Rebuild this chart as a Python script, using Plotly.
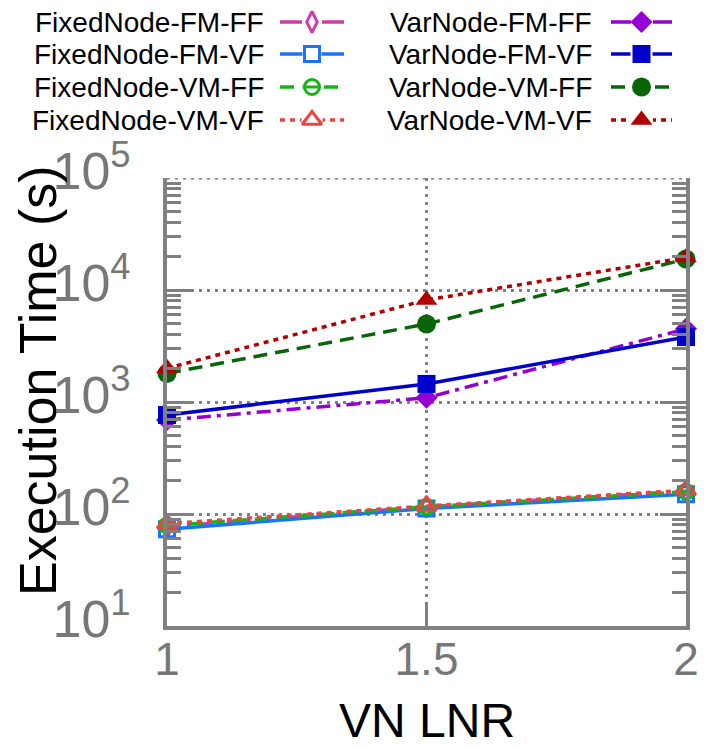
import plotly.graph_objects as go

# ---- data ---------------------------------------------------------------
lnr = [1, 1.5, 2]
x_tick_vals = [1, 1.5, 2]
x_tick_text = ["1", "1.5", "2"]
y_tick_vals = [10, 100, 1000, 10000, 100000]
y_tick_text = ["10<sup>1</sup>", "10<sup>2</sup>", "10<sup>3</sup>", "10<sup>4</sup>", "10<sup>5</sup>"]

fixed_fm_ff = [77, 116, 160]
fixed_fm_vf = [73, 112, 150]
fixed_vm_ff = [79, 116, 158]
fixed_vm_vf = [82, 118, 163]
var_fm_ff = [690, 1090, 4500]
var_fm_vf = [765, 1450, 3800]
var_vm_ff = [1800, 4970, 18900]
var_vm_vf = [2000, 8150, 19500]

names = [
    "FixedNode-FM-FF", "FixedNode-FM-VF", "FixedNode-VM-FF", "FixedNode-VM-VF",
    "VarNode-FM-FF", "VarNode-FM-VF", "VarNode-VM-FF", "VarNode-VM-VF",
]
values = [fixed_fm_ff, fixed_fm_vf, fixed_vm_ff, fixed_vm_vf,
          var_fm_ff, var_fm_vf, var_vm_ff, var_vm_vf]

# ---- styles -------------------------------------------------------------
W, H = 708, 747
PX_L, PX_R, PX_T, PX_B = 167, 686, 178, 626   # plot box in pixels
GRAY = "#808080"
TICK_GRAY = "#777777"
FONT = "Liberation Sans, Arial, Helvetica, sans-serif"

DASH_FMFF = "14px,6px,4px,6px"
DASH_FMVF = "solid"
DASH_VMFF = "14px,8px"
DASH_VMVF = "5px,5px"

styles = [
    dict(color="#d03ca8", dash=DASH_FMFF, key_dash="22px,20px", symbol="diamond-tall-open", size=15),
    dict(color="#1a73ff", dash=DASH_FMVF, key_dash="solid", symbol="square-open", size=15),
    dict(color="#14b414", dash=DASH_VMFF, key_dash=DASH_VMFF, symbol="circle-open", size=15),
    dict(color="#e84545", dash=DASH_VMVF, key_dash=DASH_VMVF, symbol="triangle-up-open", size=17),
    dict(color="#9400d3", dash=DASH_FMFF, key_dash="22px,20px", symbol="diamond", size=17),
    dict(color="#0000cc", dash=DASH_FMVF, key_dash="solid", symbol="square", size=18),
    dict(color="#0a640a", dash=DASH_VMFF, key_dash=DASH_VMFF, symbol="circle", size=19),
    dict(color="#b00000", dash=DASH_VMVF, key_dash=DASH_VMVF, symbol="triangle-up", size=19),
]

fig = go.Figure()


def add_series(xs, ys, st, xaxis="x", yaxis="y", lw=3.5, line_only=False, dash=None):
    filled = not st["symbol"].endswith("open")
    fig.add_trace(go.Scatter(
        x=xs, y=ys, mode="lines" if line_only else "lines+markers",
        xaxis=xaxis, yaxis=yaxis, cliponaxis=False, showlegend=False,
        line=dict(color=st["color"], width=lw, dash=dash or st["dash"]),
        marker=dict(symbol=st["symbol"], size=st["size"], color=st["color"],
                    line=dict(color=st["color"], width=0 if filled else 3)),
        hoverinfo="skip",
    ))


def add_bar_mark(xs, ys, st, xaxis="x", yaxis="y"):
    # horizontal stroke inside the open circle (theta-like point)
    fig.add_trace(go.Scatter(
        x=xs, y=ys, mode="markers", xaxis=xaxis, yaxis=yaxis,
        cliponaxis=False, showlegend=False, hoverinfo="skip",
        marker=dict(symbol="line-ew", size=10,
                    line=dict(color=st["color"], width=3)),
    ))


# dotted grid line along the top edge of the box (10^5)
fig.add_shape(type="line", xref="x domain", yref="y", x0=0, x1=1,
              y0=y_tick_vals[-1], y1=y_tick_vals[-1],
              line=dict(color=GRAY, width=3, dash="3px,5px"), layer="below")

for i, (nm, ys) in enumerate(zip(names, values)):
    add_series(lnr, ys, styles[i])
    if i == 2:
        add_bar_mark(lnr, ys, styles[i])

# ---- legend drawn in the top band (pixel-coordinate axes) ---------------
LEG_H = 150
row_y = [22, 54, 87, 120]
cols = [
    dict(text_right=266, x0=280, x1=344),
    dict(text_right=594, x0=611, x1=672),
]
for i, nm in enumerate(names):
    col = cols[i // 4]
    y = row_y[i % 4]
    st = styles[i]
    add_series([col["x0"], col["x1"]], [y, y], st, xaxis="x2", yaxis="y2",
               line_only=True, dash=st["key_dash"])
    xm = (col["x0"] + col["x1"]) / 2
    # white gap behind the point sample
    fig.add_trace(go.Scatter(
        x=[xm], y=[y], mode="markers", xaxis="x2", yaxis="y2",
        cliponaxis=False, showlegend=False, hoverinfo="skip",
        marker=dict(symbol="square", size=st["size"] + 4, color="white"),
    ))
    filled = not st["symbol"].endswith("open")
    fig.add_trace(go.Scatter(
        x=[xm], y=[y], mode="markers", xaxis="x2", yaxis="y2",
        cliponaxis=False, showlegend=False, hoverinfo="skip",
        marker=dict(symbol=st["symbol"], size=st["size"], color=st["color"],
                    line=dict(color=st["color"], width=0 if filled else 3)),
    ))
    if i == 2:
        add_bar_mark([xm], [y], st, xaxis="x2", yaxis="y2")
    fig.add_annotation(
        x=col["text_right"], y=y, xref="x2", yref="y2", text=nm,
        showarrow=False, xanchor="right", yanchor="middle",
        font=dict(family=FONT, size=28, color="black"),
    )

# ---- axis titles ---------------------------------------------------------
fig.add_annotation(
    x=38 / W, y=1 - 381 / H, xref="paper", yref="paper",
    text="Execution Time (s)", textangle=-90, showarrow=False,
    xanchor="center", yanchor="middle",
    font=dict(family=FONT, size=52, color="black"),
)
fig.add_annotation(
    x=(PX_L + PX_R) / 2 / W, y=1 - 720 / H, xref="paper", yref="paper",
    text="VN LNR", showarrow=False, xanchor="center", yanchor="middle",
    font=dict(family=FONT, size=48, color="black"),
)

grid = dict(showgrid=True, gridcolor=GRAY, gridwidth=3, griddash="3px,5px")

fig.update_layout(
    width=W, height=H,
    margin=dict(l=0, r=0, t=0, b=0, pad=0),
    paper_bgcolor="white", plot_bgcolor="white",
    showlegend=False,
    font=dict(family=FONT),
    xaxis=dict(
        domain=[PX_L / W, PX_R / W], range=[1, 2], automargin=False,
        tickmode="array", tickvals=x_tick_vals, ticktext=x_tick_text,
        ticks="inside", ticklen=24, tickwidth=3, tickcolor=GRAY,
        showline=True, linewidth=4, linecolor=GRAY, mirror=False,
        zeroline=False, ticklabelstandoff=-10,
        tickfont=dict(family=FONT, size=46, color=TICK_GRAY),
        anchor="y", **grid,
    ),
    yaxis=dict(
        domain=[1 - PX_B / H, 1 - PX_T / H], type="log", range=[1, 5],
        automargin=False,
        tickmode="array", tickvals=y_tick_vals, ticktext=y_tick_text,
        ticks="inside", ticklen=26, tickwidth=3, tickcolor=GRAY,
        minor=dict(ticks="inside", ticklen=14, tickwidth=3, tickcolor=GRAY,
                   dtick="D1", showgrid=False),
        showline=True, linewidth=4, linecolor=GRAY, mirror="allticks",
        zeroline=False, ticklabelstandoff=22, ticklabelshift=-7,
        tickfont=dict(family=FONT, size=52, color=TICK_GRAY),
        anchor="x", **grid,
    ),
    xaxis2=dict(domain=[0, 1], range=[0, W], visible=False, anchor="y2",
                fixedrange=True),
    yaxis2=dict(domain=[1 - LEG_H / H, 1], range=[LEG_H, 0], visible=False,
                anchor="x2", fixedrange=True),
)

fig.write_html("out.html")
